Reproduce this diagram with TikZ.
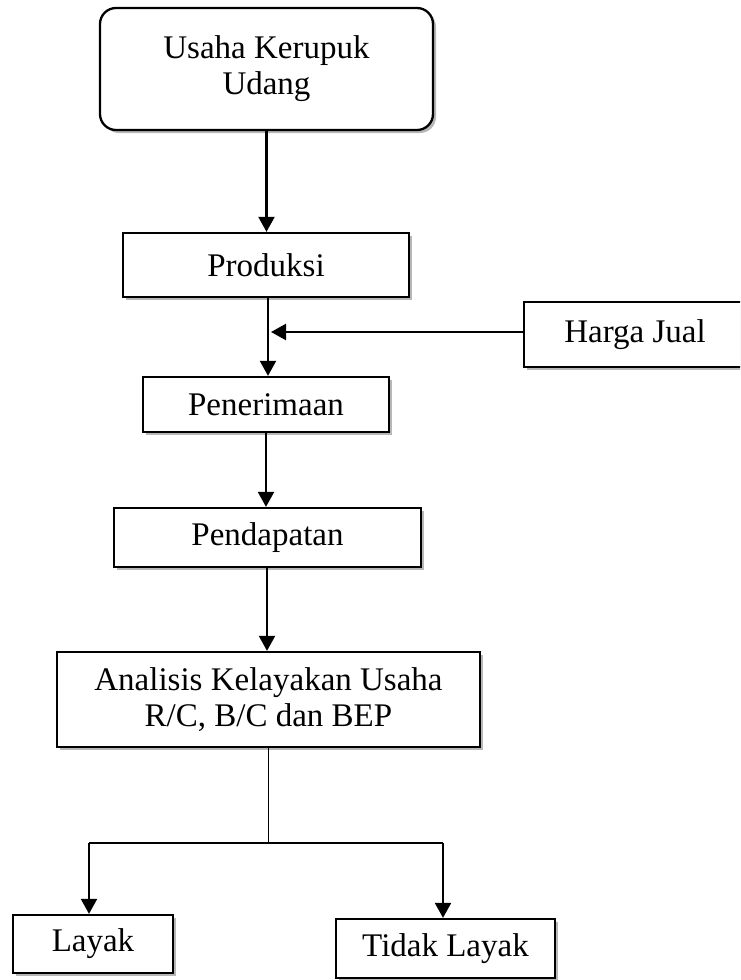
\documentclass[tikz,border=0pt]{standalone}
\usepackage{fontspec}
\setmainfont{Liberation Serif}
\usetikzlibrary{arrows.meta,shadows}
\begin{document}
\begin{tikzpicture}[x=1pt,y=-1pt,
  box/.style={draw=black,line width=2.3pt,fill=white,inner sep=0pt,align=center,
    font=\fontsize{33}{36}\selectfont,
    drop shadow={shadow xshift=3pt,shadow yshift=-3pt,fill=black!40,opacity=0.7}},
  arr/.style={line width=2.2pt,-{Triangle[length=15pt,width=16pt]}},
  thinline/.style={line width=1.3pt}]
\clip (0,0) rectangle (740,980);
\fill[white] (0,0) rectangle (740,980);
\node[box,rounded corners=16pt,minimum width=333pt,minimum height=122pt] (top) at (266.5,69) {Usaha Kerupuk\\Udang};
\node[box,minimum width=286pt,minimum height=64pt] (prod) at (266,265) {Produksi};
\node[box,minimum width=246pt,minimum height=55pt] (pen) at (266,404.5) {Penerimaan};
\node[box,minimum width=307pt,minimum height=59pt] (pend) at (267.5,537.5) {Pendapatan};
\node[box,minimum width=423pt,minimum height=95pt] (ana) at (268.5,699.5) {Analisis Kelayakan Usaha\\R/C, B/C dan BEP};
\node[box,minimum width=222pt,minimum height=65pt] (hj) at (635,334.5) {Harga Jual};
\node[box,minimum width=160pt,minimum height=58pt] (lay) at (93,944) {Layak};
\node[box,minimum width=219pt,minimum height=59pt] (tlay) at (445.5,948.5) {Tidak Layak};
\coordinate (hjend) at (271,332);
\coordinate (br) at (268.5,843);
\coordinate (bl) at (89,843);
\coordinate (bt) at (443,843);
\draw[arr] (top.south) -- (top.south |- prod.north);
\draw[arr] ([xshift=2pt]prod.south) -- ([xshift=2pt]prod.south |- pen.north);
\draw[arr] (hj.west |- hjend) -- (hjend);
\draw[arr] (pen.south) -- (pen.south |- pend.north);
\draw[arr] ([xshift=-0.5pt]pend.south) -- ([xshift=-0.5pt]pend.south |- ana.north);
\draw[thinline] (ana.south) -- (br);
\draw[thinline] (bl) -- (bt);
\draw[arr] (bl) -- (bl |- lay.north);
\draw[arr] (bt) -- (bt |- tlay.north);
\end{tikzpicture}
\end{document}
